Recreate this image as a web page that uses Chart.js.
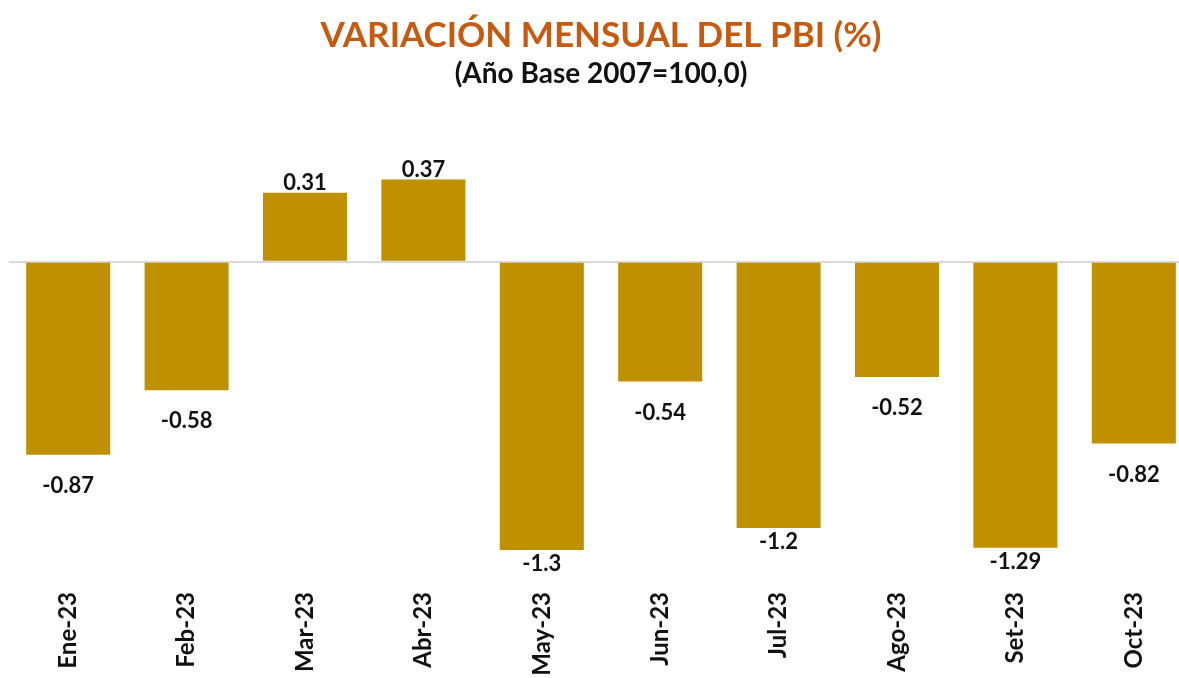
<!DOCTYPE html>
<html lang="es">
<head>
<meta charset="utf-8">
<title>Variación mensual del PBI</title>
<script src="https://cdn.jsdelivr.net/npm/chart.js@4.4.1/dist/chart.umd.min.js"></script>
<style>
    html, body {
        margin: 0;
        padding: 0;
        background: #ffffff;
        overflow: hidden;
    }

    .chart-wrap {
        position: relative;
        width: 1200px;
        height: 678px;
    }
</style>
</head>
<body>
<div class="chart-wrap">
    <canvas id="pbiChart"></canvas>
</div>
<script>
const meses = ['Ene-23', 'Feb-23', 'Mar-23', 'Abr-23', 'May-23', 'Jun-23', 'Jul-23', 'Ago-23', 'Set-23', 'Oct-23'];
const variacion = [-0.87, -0.58, 0.31, 0.37, -1.3, -0.54, -1.2, -0.52, -1.29, -0.82];
const etiquetas = ['-0.87', '-0.58', '0.31', '0.37', '-1.3', '-0.54', '-1.2', '-0.52', '-1.29', '-0.82'];

const barColor = '#bf9000';
const titleColor = '#c55a11';
const textColor = '#111111';
const zeroLine = '#d9d9d9';
const fontFamily = 'Lato, "Open Sans", sans-serif';

// etiquetas de valor encima / debajo de cada barra
const valueLabels = {
    id: 'valueLabels',
    afterDatasetsDraw(chart) {
        const { ctx } = chart;
        const meta = chart.getDatasetMeta(0);

        ctx.save();
        ctx.fillStyle = textColor;
        ctx.font = `bold 22px ${fontFamily}`;
        ctx.textAlign = 'center';
        ctx.textBaseline = 'middle';

        meta.data.forEach((bar, i) => {
            const value = variacion[i];
            let y;

            if (value >= 0) {
                y = bar.y - 10;
            } else if (value <= -1.2) {
                y = bar.y + 14;
            } else {
                y = bar.y + 31;
            }

            ctx.fillText(etiquetas[i], bar.x, y);
        });

        ctx.restore();
    },
};

new Chart(document.getElementById('pbiChart'), {
    type: 'bar',
    data: {
        labels: meses,
        datasets: [{
            label: 'Variación mensual',
            data: variacion,
            backgroundColor: barColor,
            borderWidth: 0,
            barPercentage: 0.71,
            categoryPercentage: 1,
        }],
    },
    options: {
        responsive: true,
        maintainAspectRatio: false,
        animation: false,
        layout: {
            padding: {
                left: 9,
                right: 7,
                top: 0,
                bottom: 0,
            },
        },
        plugins: {
            legend: {
                display: false,
            },
            tooltip: {
                enabled: false,
            },
            title: {
                display: true,
                text: 'VARIACIÓN MENSUAL DEL PBI (%)',
                color: titleColor,
                font: {
                    family: fontFamily,
                    size: 35,
                    weight: 'bold',
                },
                padding: {
                    top: 15,
                    bottom: 0,
                },
            },
            subtitle: {
                display: true,
                text: '(Año Base 2007=100,0)',
                color: textColor,
                font: {
                    family: fontFamily,
                    size: 28,
                    weight: 'bold',
                },
                padding: {
                    top: 0,
                    bottom: 49,
                },
            },
        },
        scales: {
            x: {
                grid: {
                    display: false,
                    drawTicks: false,
                },
                border: {
                    display: false,
                },
                ticks: {
                    color: textColor,
                    minRotation: 90,
                    maxRotation: 90,
                    padding: 2,
                    font: {
                        family: fontFamily,
                        size: 24,
                        weight: 'bold',
                    },
                },
                afterFit(scale) {
                    scale.height = 88;
                },
            },
            y: {
                min: -1.48,
                max: 0.55,
                grid: {
                    drawTicks: false,
                    lineWidth: 2,
                    color: (c) => (c.tick && c.tick.value === 0 ? zeroLine : 'transparent'),
                },
                border: {
                    display: false,
                },
                ticks: {
                    display: false,
                    stepSize: 0.5,
                },
                afterFit(scale) {
                    scale.width = 0;
                },
            },
        },
    },
    plugins: [valueLabels],
});
</script>
</body>
</html>
